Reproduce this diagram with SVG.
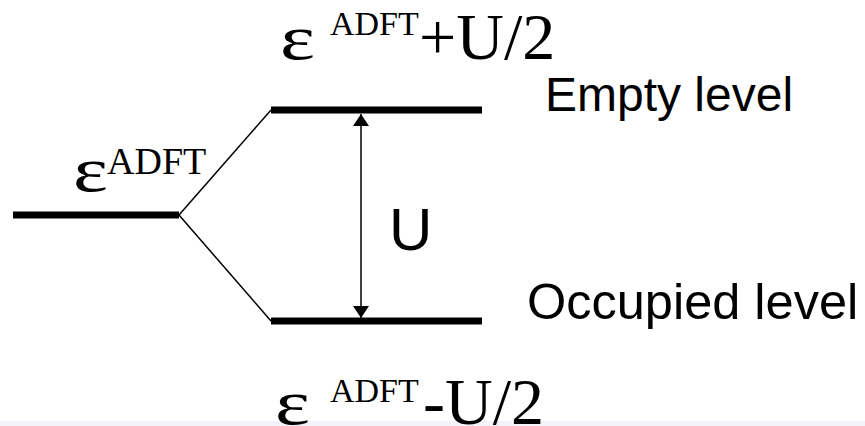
<svg xmlns="http://www.w3.org/2000/svg" width="865" height="426" viewBox="0 0 865 426">
  <style>
    .level { stroke: #000; stroke-width: 7; fill: none; }
    .split { stroke: #000; stroke-width: 1.5; fill: none; }
    .gap { stroke: #000; stroke-width: 1.5; fill: none; }
    .serif { font-family: "Liberation Serif", "Times New Roman", serif; fill: #000; }
    .sans { font-family: "Liberation Sans", Arial, sans-serif; fill: #000; }
    .eps { font-size: 64px; }
    .big { font-size: 66px; }
    .sup { font-size: 34px; }
  </style>
  <defs>
    <marker id="head" viewBox="0 0 12 16" refX="12" refY="8" markerWidth="12" markerHeight="16" markerUnits="userSpaceOnUse" orient="auto">
      <path d="M0,0 L12,8 L0,16 Z" fill="#000"/>
    </marker>
  </defs>

  <rect x="0" y="0" width="865" height="426" fill="#fff"/>
  <rect x="0" y="421" width="865" height="5" fill="#f3f3f9"/>

  <!-- connectors: splitting lines and the U gap arrow -->
  <g id="connectors">
    <line class="split" x1="179" y1="215" x2="271" y2="110"/>
    <line class="split" x1="179" y1="215" x2="271" y2="321"/>
    <line class="gap" x1="361" y1="215" x2="361" y2="114" marker-end="url(#head)"/>
    <line class="gap" x1="361" y1="215" x2="361" y2="318" marker-end="url(#head)"/>
  </g>

  <g id="atomic-level">
    <line class="level" x1="13" y1="215" x2="179" y2="215"/>
    <text class="serif eps" transform="translate(73,191) scale(1.3,1)">ε</text>
    <text class="serif" font-size="38" x="107" y="174">ADFT</text>
  </g>

  <g id="empty-level">
    <line class="level" x1="271" y1="110" x2="482" y2="110"/>
    <text class="serif eps" transform="translate(280,59) scale(1.3,1)">ε</text>
    <text class="serif sup" x="330" y="35">ADFT</text>
    <text class="serif big" x="419" y="59">+U/2</text>
    <text class="sans" font-size="48" x="545" y="111">Empty level</text>
  </g>

  <g id="occupied-level">
    <line class="level" x1="271" y1="321" x2="482" y2="321"/>
    <text class="serif eps" transform="translate(275,424) scale(1.3,1)">ε</text>
    <text class="serif sup" x="330" y="402">ADFT</text>
    <text class="serif big" x="423" y="424">-U/2</text>
    <text class="sans" font-size="50.5" x="527" y="319">Occupied level</text>
  </g>

  <g id="gap-label">
    <text class="sans" font-size="60" x="389" y="250">U</text>
  </g>
</svg>
